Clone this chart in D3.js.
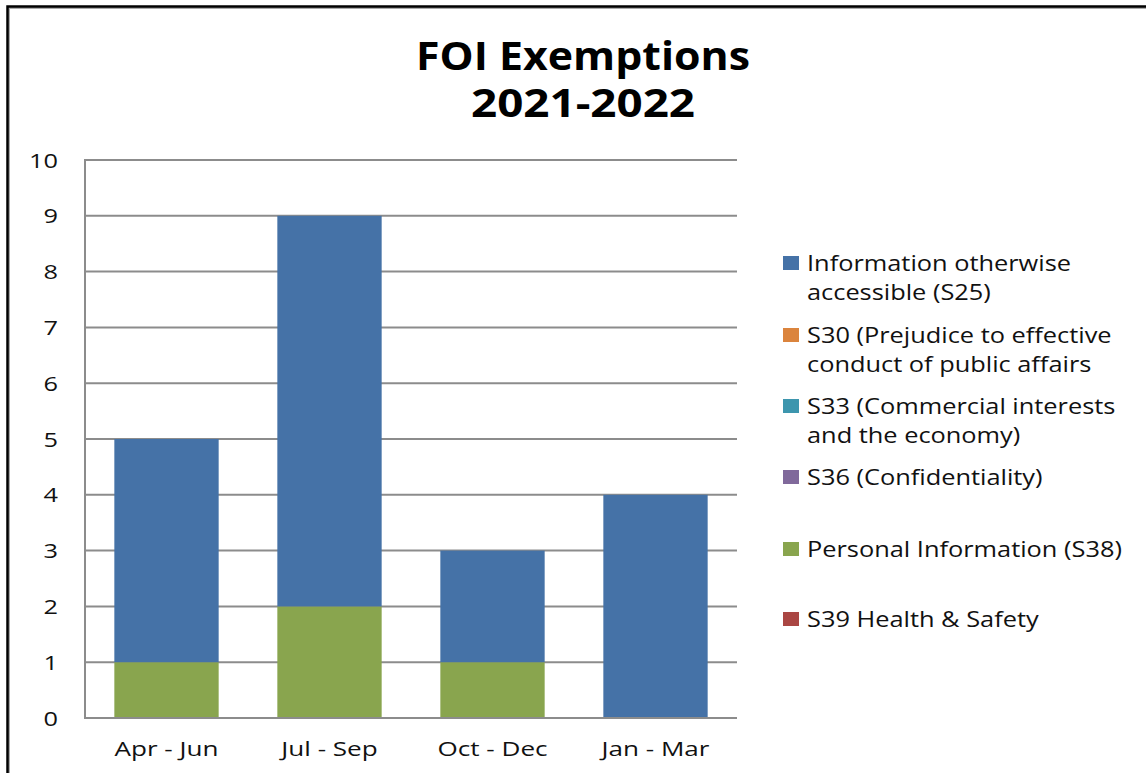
<!DOCTYPE html>
<html><head><meta charset="utf-8">
<script src="https://cdn.jsdelivr.net/npm/d3@7"></script>
<style>html,body{margin:0;padding:0;background:#fff;}svg{display:block;}</style>
</head><body>
<script>
const categories = ["Apr - Jun", "Jul - Sep", "Oct - Dec", "Jan - Mar"];
const seriesNames = [
  ["Information otherwise", "accessible (S25)"],
  ["S30 (Prejudice to effective", "conduct of public affairs"],
  ["S33 (Commercial interests", "and the economy)"],
  ["S36 (Confidentiality)"],
  ["Personal Information (S38)"],
  ["S39 Health & Safety"]
];
const seriesKeys = ["S25", "S30", "S33", "S36", "S38", "S39"];
const seriesColors = ["#4572A7", "#DB843D", "#3D96AE", "#80699B", "#89A54E", "#AA4643"];
const valuesS25 = [4, 7, 2, 4];
const valuesS30 = [0, 0, 0, 0];
const valuesS33 = [0, 0, 0, 0];
const valuesS36 = [0, 0, 0, 0];
const valuesS38 = [1, 2, 1, 0];
const valuesS39 = [0, 0, 0, 0];
const yTicks = [0, 1, 2, 3, 4, 5, 6, 7, 8, 9, 10];
const titleLines = ["FOI Exemptions", "2021-2022"];

(function () {
const W = 1146, H = 773;
const svg = d3.select("body").append("svg").attr("width", W).attr("height", H);
const font = "'Open Sans', 'DejaVu Sans', sans-serif";

// horizontal stretch of text nodes by a ratio derived from a reference width
function ratioFor(node, target) { return target / node.getComputedTextLength(); }
function stretch(nodes, ratio) {
  nodes.forEach(n => {
    const w = n.getComputedTextLength();
    d3.select(n).attr("textLength", w * ratio).attr("lengthAdjust", "spacingAndGlyphs");
  });
}

// outer frame
svg.append("rect").attr("x", 9).attr("y", 8).attr("width", 1200).attr("height", 800)
  .attr("fill", "none").attr("stroke", "#aaa").attr("stroke-width", 2);
svg.append("rect").attr("x", 7.5).attr("y", 6.5).attr("width", 1200).attr("height", 800)
  .attr("fill", "none").attr("stroke", "#000").attr("stroke-width", 2.5);

// title (one text element, two lines)
const titleWidths = [334, 224];
const title = svg.append("text").attr("text-anchor", "middle")
  .attr("font-family", font).attr("font-weight", "bold").attr("font-size", 39).attr("fill", "#000");
titleLines.forEach((t, i) => {
  const ts = title.append("tspan").attr("x", 583).attr("y", 70 + i * 47).text(t);
  stretch([ts.node()], ratioFor(ts.node(), titleWidths[i]));
});

// data table
const table = categories.map((c, i) => ({
  cat: c, S25: valuesS25[i], S30: valuesS30[i], S33: valuesS33[i],
  S36: valuesS36[i], S38: valuesS38[i], S39: valuesS39[i]
}));
const stackOrder = ["S38", "S25", "S30", "S33", "S36", "S39"];
const stacked = d3.stack().keys(stackOrder)(table);

const pl = 85, pr = 737, pt = 160, pb = 718;
const x = d3.scaleBand().domain(categories).range([pl, pr]).paddingInner(0.36).paddingOuter(0.18);
const y = d3.scaleLinear().domain([0, 10]).range([pb, pt]);

// y labels
const yAxis = d3.axisLeft(y).tickValues(yTicks).tickSize(0).tickPadding(0);
const gy = svg.append("g").attr("transform", `translate(${pl},0)`).call(yAxis);
gy.select(".domain").remove();
const yText = gy.selectAll("text").attr("x", -27).attr("font-family", font).attr("font-size", 19.5)
  .attr("fill", "#111").attr("dy", "0.36em");
const yNodes = yText.nodes();
stretch(yNodes, ratioFor(yNodes[yNodes.length - 1], 29));

// gridlines
svg.append("g").selectAll("line").data(yTicks).join("line")
  .attr("x1", pl).attr("x2", pr).attr("y1", d => y(d)).attr("y2", d => y(d))
  .attr("stroke", "#8c8c8c").attr("stroke-width", 2);
svg.append("line").attr("x1", pl).attr("x2", pl).attr("y1", pt - 1).attr("y2", pb + 1)
  .attr("stroke", "#8c8c8c").attr("stroke-width", 2);

// bars
const colorOf = k => seriesColors[seriesKeys.indexOf(k)];
svg.append("g").selectAll("g").data(stacked).join("g").attr("fill", d => colorOf(d.key))
  .selectAll("rect").data(d => d).join("rect")
  .attr("x", d => x(d.data.cat)).attr("width", x.bandwidth())
  .attr("y", d => y(d[1])).attr("height", d => Math.max(0, y(d[0]) - y(d[1])));

// bottom axis line over bars
svg.append("line").attr("x1", pl).attr("x2", pr).attr("y1", pb).attr("y2", pb)
  .attr("stroke", "#8c8c8c").attr("stroke-width", 2);

// category labels
const xAxis = d3.axisBottom(x).tickSize(0).tickPadding(0);
const gx = svg.append("g").attr("transform", `translate(0,${pb})`).call(xAxis);
gx.select(".domain").remove();
const catText = gx.selectAll("text").attr("y", 38).attr("dy", 0)
  .attr("font-family", font).attr("font-size", 20).attr("fill", "#111");
stretch(catText.nodes(), ratioFor(catText.nodes()[0], 104));

// legend
const legendY = [263, 335, 406, 477, 549, 619];
const lg = svg.append("g");
const legNodes = [];
seriesNames.forEach((lines, i) => {
  lg.append("rect").attr("x", 783).attr("y", legendY[i] - 7).attr("width", 16).attr("height", 14)
    .attr("fill", seriesColors[i]);
  lines.forEach((l, j) => {
    const t = lg.append("text").attr("x", 807).attr("y", legendY[i] + j * 29).attr("dy", "0.36em")
      .attr("font-family", font).attr("font-size", 21.5).attr("fill", "#111").text(l);
    legNodes.push(t.node());
  });
});
stretch(legNodes, ratioFor(legNodes[0], 264));
})();
</script>
</body></html>
